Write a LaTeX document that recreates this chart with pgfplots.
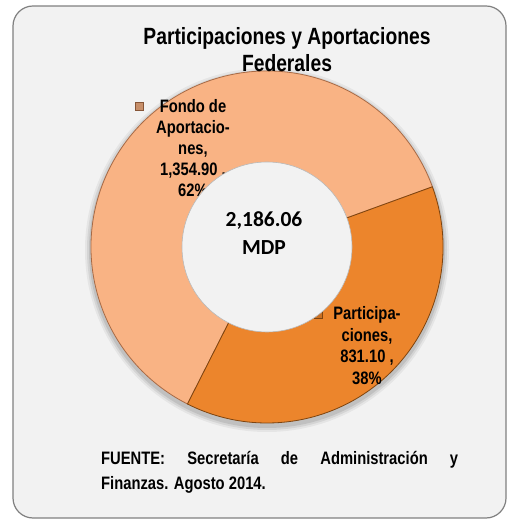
\documentclass[border=0pt]{standalone}
\usepackage{pgfplots}
\pgfplotsset{compat=1.18}
\usepackage{pgfplotstable}
\usepackage{fontspec}
\setmainfont{Liberation Sans}
\newfontfamily\narrow[FakeStretch=0.82]{Liberation Sans}
\newfontfamily\calib{Carlito}

\definecolor{bg}{HTML}{F2F2F2}
\definecolor{frame}{HTML}{808080}
\definecolor{fondo}{HTML}{F9B384}
\definecolor{fondoedge}{HTML}{A86A45}
\definecolor{part}{HTML}{EC852C}
\definecolor{partedge}{HTML}{7E440F}

% MDP
\pgfplotstableread{
serie valor
Participaciones 831.10
Fondo 1354.90
}\datos

\begin{document}
\begin{tikzpicture}
\pgfplotstablegetelem{0}{valor}\of\datos \let\vPart\pgfplotsretval
\pgfplotstablegetelem{1}{valor}\of\datos \let\vFondo\pgfplotsretval
% donut centre and radii, in picture units (1 unit = 1bp)
\def\cx{267}\def\cy{273}\def\R{176}\def\r{85}
\pgfmathsetmacro\share{\vPart/(\vPart+\vFondo)}
\pgfmathsetmacro\aStart{20}
\pgfmathsetmacro\aMid{\aStart-360*\share}
\pgfmathsetmacro\aEnd{\aStart-360}
\pgfmathsetmacro\xS{\cx+\R*cos(\aStart)}\pgfmathsetmacro\yS{\cy+\R*sin(\aStart)}
\pgfmathsetmacro\xM{\cx+\R*cos(\aMid)}\pgfmathsetmacro\yM{\cy+\R*sin(\aMid)}
\pgfmathsetmacro\yShadow{\cy-3}
\begin{axis}[hide axis, scale only axis, width=510bp, height=520bp,
  xmin=0, xmax=510, ymin=0, ymax=520, clip=false]
  \path (axis cs:0,0) rectangle (axis cs:510,520);
  % frame
  \draw[frame, fill=bg, line width=1.2bp, rounded corners=20bp]
    (axis cs:13,2) rectangle (axis cs:506,514);
  % soft shadow under the ring
  \fill[black, opacity=0.05] (axis cs:\cx,\yShadow) circle[radius=182bp];
  \fill[black, opacity=0.07] (axis cs:\cx,\yShadow) circle[radius=180bp];
  \fill[black, opacity=0.09] (axis cs:\cx,\yShadow) circle[radius=178bp];
  % sectors
  \filldraw[fill=fondo, draw=fondoedge, line width=0.8bp]
    (axis cs:\cx,\cy) -- (axis cs:\xM,\yM)
    arc[start angle=\aMid, end angle=\aEnd, radius=\R bp] -- cycle;
  \filldraw[fill=part, draw=partedge, line width=0.8bp]
    (axis cs:\cx,\cy) -- (axis cs:\xS,\yS)
    arc[start angle=\aStart, end angle=\aMid, radius=\R bp] -- cycle;
  % labels
  \begin{scope}[every node/.style={anchor=base, inner sep=0pt,
      font=\narrow\bfseries\fontsize{18bp}{21bp}\selectfont}]
    \node at (axis cs:193,407) {Fondo de};
    \node at (axis cs:193,386) {Aportacio-};
    \node at (axis cs:193,365) {nes,};
    \node at (axis cs:193,344) {1,354.90 ,};
    \node at (axis cs:193,323) {62\%};
    \node at (axis cs:367,200) {Participa-};
    \node at (axis cs:367,178) {ciones,};
    \node at (axis cs:367,157) {831.10 ,};
    \node at (axis cs:367,135) {38\%};
  \end{scope}
  \filldraw[fill=fondo!80!black, draw=fondoedge!80!black, line width=0.6bp]
    (axis cs:135,410) rectangle (axis cs:143,418);
  \filldraw[fill=part!85!black, draw=partedge, line width=0.6bp]
    (axis cs:314,202) rectangle (axis cs:322,210);
  % hole
  \filldraw[fill=bg, draw=gray!55, line width=0.6bp]
    (axis cs:\cx,\cy) circle[radius=\r bp];
  \node[anchor=base, inner sep=0pt, font=\calib\bfseries\fontsize{21.5bp}{26bp}\selectfont]
    at (axis cs:264,293) {2,186.06};
  \node[anchor=base, inner sep=0pt, font=\calib\bfseries\fontsize{21.5bp}{26bp}\selectfont]
    at (axis cs:264,265) {MDP};
  % title
  \begin{scope}[every node/.style={anchor=base, inner sep=0pt,
      font=\narrow\bfseries\fontsize{23.5bp}{27bp}\selectfont}]
    \node at (axis cs:287,475) {Participaciones y Aportaciones};
    \node at (axis cs:287,448) {Federales};
  \end{scope}
  % source
  \begin{scope}[every node/.style={anchor=base west, inner sep=0pt,
      font=\narrow\bfseries\fontsize{18bp}{21bp}\selectfont}]
    \node at (axis cs:101,55) {\hbox to 357bp{FUENTE:\hfill Secretaría\hfill de\hfill Administración\hfill y}};
    \node at (axis cs:101,30) {Finanzas. Agosto 2014.};
  \end{scope}
\end{axis}
\end{tikzpicture}
\end{document}
